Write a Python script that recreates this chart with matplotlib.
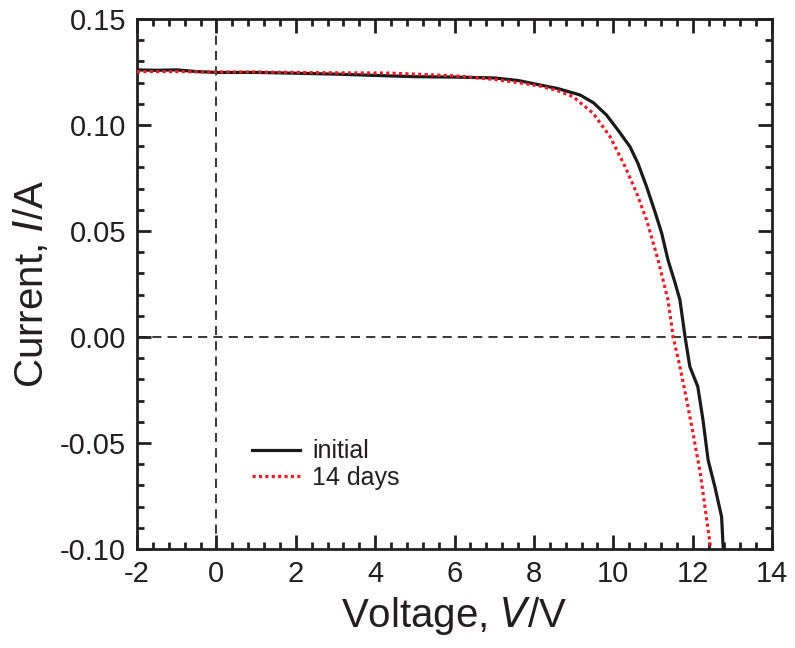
import numpy as np
import matplotlib.pyplot as plt
from matplotlib.ticker import MultipleLocator

# I-V curves
v_initial = [-2.0, -1.5, -1.0, -0.5, 0.0, 1.0, 1.8, 3.0, 4.3, 5.0, 6.0, 7.0, 7.6, 8.15,
             8.6, 9.16, 9.5, 9.83, 10.12, 10.42, 10.62, 10.84, 11.05, 11.22, 11.38,
             11.55, 11.68, 11.81, 11.93, 12.13, 12.26, 12.39, 12.56, 12.73, 12.77]
i_initial = [0.126, 0.1258, 0.126, 0.1252, 0.1248, 0.1248, 0.1245, 0.124, 0.1232, 0.1228,
             0.1226, 0.1222, 0.121, 0.1189, 0.1172, 0.1142, 0.1105, 0.1047, 0.0976, 0.0898,
             0.082, 0.0709, 0.0591, 0.049, 0.0363, 0.0260, 0.0175, 0.0, -0.014, -0.0234,
             -0.039, -0.058, -0.0706, -0.0848, -0.0995]

v_14days = [-2.0, -1.0, 0.0, 1.0, 2.0, 3.0, 4.3, 5.0, 6.0, 7.0, 7.6, 8.15, 8.6, 8.99,
            9.49, 9.92, 10.3, 10.59, 10.84, 11.13, 11.38, 11.51, 11.68, 11.85, 12.01,
            12.19, 12.31, 12.45]
i_14days = [0.1252, 0.1252, 0.1250, 0.1250, 0.1248, 0.1246, 0.1245, 0.1240, 0.1232, 0.1215,
            0.1200, 0.1184, 0.1162, 0.1133, 0.1056, 0.0945, 0.0803, 0.0679, 0.0552, 0.0363,
            0.0175, 0.0, -0.014, -0.0297, -0.0453, -0.064, -0.080, -0.099]

x_limits = (-2, 14)
y_limits = (-0.10, 0.15)
x_ticks = [-2, 0, 2, 4, 6, 8, 10, 12, 14]
y_ticks = [-0.10, -0.05, 0.00, 0.05, 0.10, 0.15]

plt.rcParams['font.family'] = ['Liberation Sans', 'DejaVu Sans']
ink = '#231f20'

fig = plt.figure(figsize=(7.95, 6.48), dpi=100)
ax = fig.add_axes([137 / 795, 1 - 549 / 648, (772 - 137) / 795, (549 - 19) / 648])

ax.axhline(0, color='black', lw=1.1, ls=(0, (6, 4)), zorder=1)
ax.axvline(0, color='black', lw=1.1, ls=(0, (6, 4)), zorder=1)

ax.plot(v_initial, i_initial, color='#1a1a1a', lw=2.3, label='initial', zorder=3)
ax.plot(v_14days, i_14days, color='#ee1c25', lw=2.3, ls=(0, (1, 1)), label='14 days', zorder=4)

ax.set_xlim(*x_limits)
ax.set_ylim(*y_limits)
ax.set_xticks(x_ticks)
ax.set_yticks(y_ticks)
ax.set_xticklabels([str(t) for t in x_ticks])
ax.set_yticklabels([f'{t:.2f}' for t in y_ticks])
ax.xaxis.set_minor_locator(MultipleLocator(0.4))
ax.yaxis.set_minor_locator(MultipleLocator(0.01))

ax.tick_params(which='both', direction='in', top=True, right=True, width=2, colors=ink,
               labelsize=21, labelcolor=ink)
ax.tick_params(which='major', length=10, pad=8)
ax.tick_params(which='minor', length=5)
for sp in ax.spines.values():
    sp.set_linewidth(2)
    sp.set_color(ink)

ax.set_xlabel('Voltage, $\\it{V}$/V', fontsize=29, color=ink, labelpad=5)
ax.set_ylabel('Current, $\\it{I}$/A', fontsize=29, color=ink, labelpad=6)

ax.legend(loc='upper left', bbox_to_anchor=(0.181, 0.207), borderaxespad=0, borderpad=0,
          frameon=False, fontsize=18, handlelength=1.92, handletextpad=0.5,
          labelspacing=0.1, labelcolor=ink)

fig.savefig('out.png', dpi=100)
